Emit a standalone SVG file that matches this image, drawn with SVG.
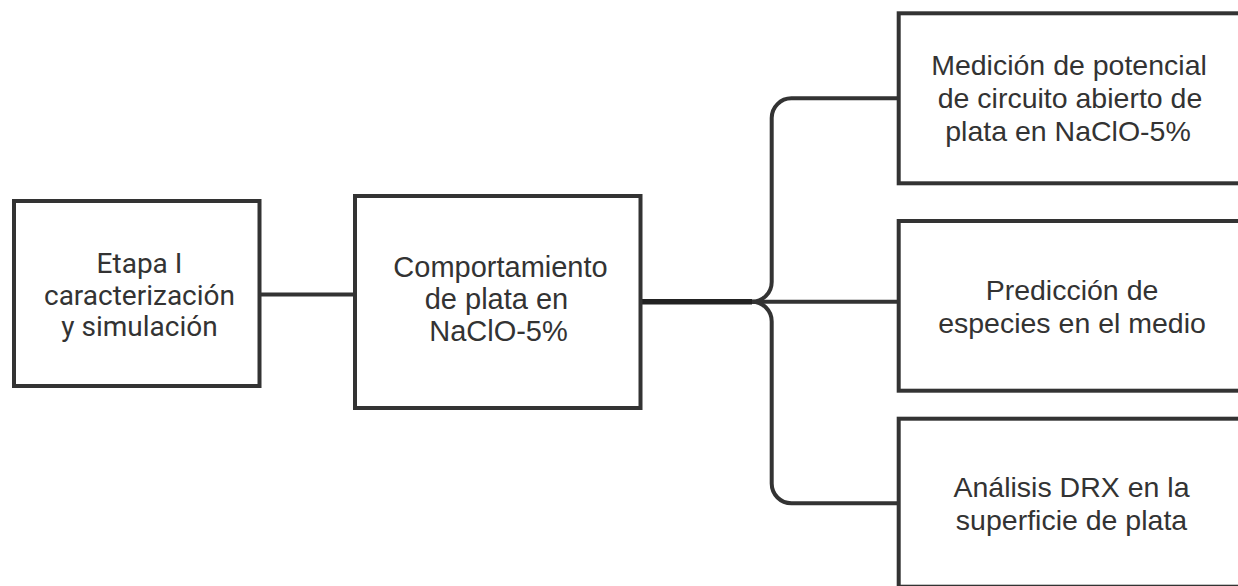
<svg xmlns="http://www.w3.org/2000/svg" width="1238" height="586" viewBox="0 0 1238 586">
<style>
.box{fill:#ffffff;stroke:#333333;stroke-width:4}
.lbl{font-family:"Liberation Sans",Arial,sans-serif;font-size:28.5px;fill:#333333;text-anchor:middle}
.lbl2{font-family:Roboto,"Liberation Sans",sans-serif;font-size:28px;fill:#333333;text-anchor:middle}
.con{fill:none;stroke:#333333;stroke-width:4}
</style>
<rect width="1238" height="586" fill="#ffffff"/>
<g id="connectors">
<path class="con" d="M259.5,294.5 L355,294.5"/>
<path class="con" d="M640.5,301.7 L752,301.7 A19.7,19.7 0 0 0 771.7,282 L771.7,118 A19.7,19.7 0 0 1 791.4,98.3 L898.7,98.3"/>
<path class="con" d="M640.5,301.7 L898.7,301.7"/>
<path class="con" d="M640.5,301.7 L752,301.7 A19.7,19.7 0 0 1 771.7,321.4 L771.7,483.6 A19.7,19.7 0 0 0 791.4,503.3 L898.7,503.3"/>
<path fill="none" stroke="#222222" stroke-width="5.5" d="M640.5,301.7 L752,301.7"/>
</g>
<g id="node-etapa">
<rect class="box" x="14" y="201" width="245.5" height="185"/>
<text class="lbl2" x="139.5" y="273">Etapa I</text>
<text class="lbl2" x="139.5" y="305">caracterización</text>
<text class="lbl2" x="139.5" y="336">y simulación</text>
</g>
<g id="node-comportamiento">
<rect class="box" x="355" y="196" width="285.5" height="212"/>
<text class="lbl" style="font-size:29px" x="500.5" y="276.7">Comportamiento</text>
<text class="lbl" style="font-size:29px" x="496.5" y="308.7">de plata en</text>
<text class="lbl" style="font-size:29px" x="498.5" y="341">NaClO-5%</text>
</g>
<g id="node-medicion">
<rect class="box" x="898.7" y="13.3" width="345" height="170"/>
<text class="lbl" x="1069" y="75">Medición de potencial</text>
<text class="lbl" x="1070" y="108">de circuito abierto de</text>
<text class="lbl" x="1068" y="140.5">plata en NaClO-5%</text>
</g>
<g id="node-prediccion">
<rect class="box" x="898.7" y="221" width="345" height="169.7"/>
<text class="lbl" x="1072" y="300">Predicción de</text>
<text class="lbl" x="1072" y="333">especies en el medio</text>
</g>
<g id="node-analisis">
<rect class="box" x="898.7" y="418.7" width="345" height="168"/>
<text class="lbl" x="1071.5" y="496.7">Análisis DRX en la</text>
<text class="lbl" x="1071.5" y="530">superficie de plata</text>
</g>
</svg>
